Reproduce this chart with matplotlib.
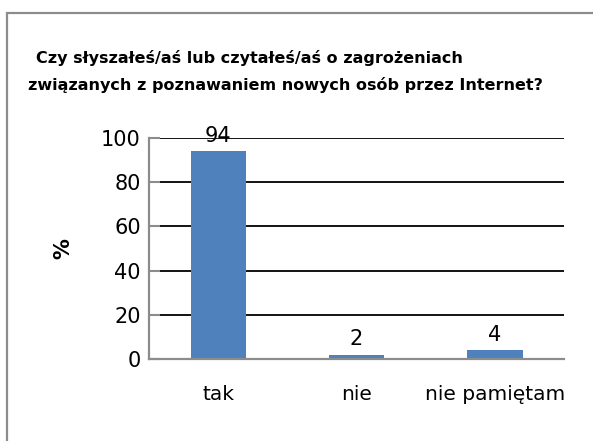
import matplotlib.pyplot as plt
from matplotlib.patches import Rectangle

plt.rcParams['font.family'] = ['DejaVu Sans']

categories = ["tak", "nie", "nie pamiętam"]
values = [94, 2, 4]
yticks = [0, 20, 40, 60, 80, 100]
title_1 = "Czy słyszałeś/aś lub czytałeś/aś o zagrożeniach"
title_2 = "związanych z poznawaniem nowych osób przez Internet?"

fig = plt.figure(figsize=(5.93, 4.41), dpi=100)

# ramka wykresu (ucięta z prawej i u dołu)
fig.patches.append(Rectangle((7 / 593, -0.1), 1.2, 1 - 13 / 441 + 0.1,
                             transform=fig.transFigure, fill=False,
                             edgecolor="#8c8c8c", linewidth=1.6))

ax = fig.add_axes([149 / 593, 1 - 359 / 441, 415 / 593, 221 / 441])
x = range(len(categories))
bars = ax.bar(x, values, width=0.4, color="#4f81bd", zorder=3)
ax.set_xlim(-0.5, 2.5)
ax.set_ylim(0, 100)
ax.set_yticks(yticks)
ax.set_xticks(list(x))
ax.set_xticklabels(categories, fontsize=14.5)
ax.tick_params(axis="x", length=0, pad=19)
ax.tick_params(axis="y", direction="in", length=8, width=1.5, color="#8c8c8c",
               labelsize=15, pad=6)
ax.grid(axis="y", color="black", linewidth=1.3, zorder=0)
for s in ["top", "right"]:
    ax.spines[s].set_visible(False)
for s in ["left", "bottom"]:
    ax.spines[s].set_color("#8c8c8c")
    ax.spines[s].set_linewidth(1.6)
    ax.spines[s].set_zorder(4)

for b, v in zip(bars, values):
    ax.annotate(str(v), (b.get_x() + b.get_width() / 2, v), xytext=(0, 4),
                textcoords="offset points", ha="center", va="bottom",
                fontsize=15)

ax.set_ylabel("%", fontsize=15, fontweight="bold", labelpad=20)

fig.text(249 / 593, 1 - 58 / 441, title_1, ha="center", va="center",
         fontsize=11.5, fontweight="bold")
fig.text(285 / 593, 1 - 85 / 441, title_2, ha="center", va="center",
         fontsize=11.5, fontweight="bold")

fig.savefig("out.png", dpi=100)
